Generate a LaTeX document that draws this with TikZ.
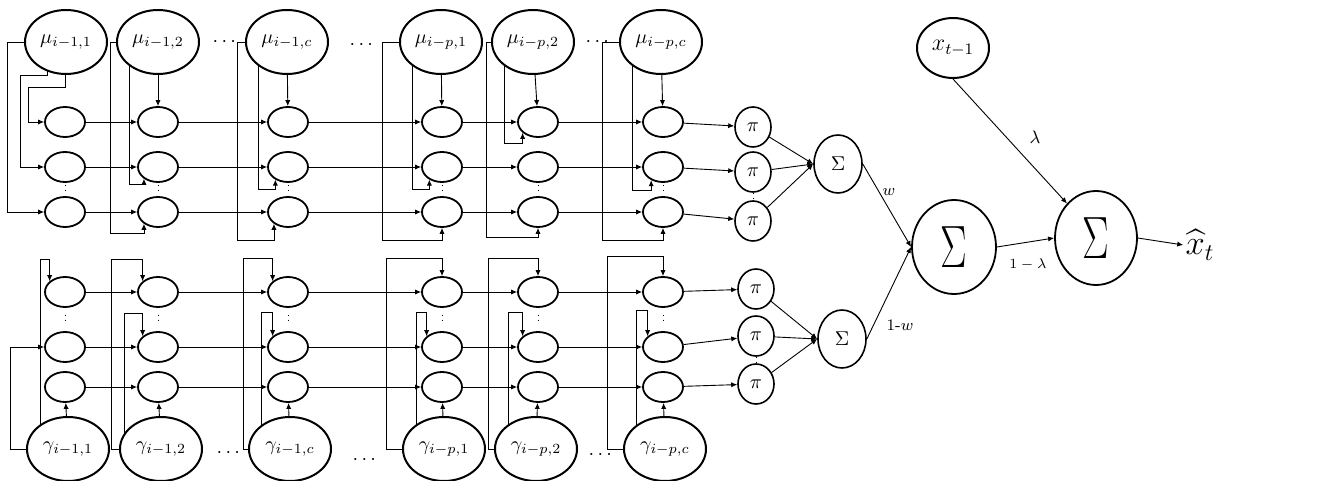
\documentclass[tikz,border=0pt]{standalone}
\usepackage{amsmath,amssymb}
\usepackage{graphicx}
\usetikzlibrary{shapes.geometric,arrows.meta,calc,backgrounds}

\begin{document}
\begin{tikzpicture}[x=0.5pt,y=-0.5pt,
    var/.style={ellipse,draw,line width=1pt,fill=white,inner sep=0pt,minimum width=41pt,minimum height=32pt},
    cell/.style={ellipse,draw,line width=0.9pt,fill=white,inner sep=0pt,minimum width=20pt,minimum height=15pt},
    prod/.style={ellipse,draw,line width=0.8pt,fill=white,inner sep=0pt,minimum width=18pt,minimum height=20pt},
    sumsmall/.style={ellipse,draw,line width=0.8pt,fill=white,inner sep=0pt,minimum width=24pt,minimum height=29pt},
    sumbig/.style={ellipse,draw,line width=0.9pt,fill=white,inner sep=0pt,minimum width=42pt,minimum height=47pt,font=\Huge},
    conn/.style={-{Latex[length=3pt,width=2.6pt]},line width=0.45pt},
]

% Page size
\useasboundingbox (0,0) rectangle (1324,481);

% Input nodes
\foreach \k/\x/\lab in {1/66/{i-1,1},2/158/{i-1,2},3/287/{i-1,c},4/441/{i-p,1},5/533/{i-p,2},6/661/{i-p,c}}
    \node[var] (m\k) at (\x,42) {$\mu_{\lab}$};
\foreach \k/\x/\lab in {1/68/{i-1,1},2/161/{i-1,2},3/290/{i-1,c},4/444/{i-p,1},5/536/{i-p,2},6/665/{i-p,c}}
    \node[var] (g\k) at (\x,449) {$\gamma_{\lab}$};

% Dots between inputs
\node (dm1) at (226,42) {$\cdots$};
\node (dm2) at (363,45) {$\cdots$};
\node (dm3) at (599,42) {$\cdots$};
\node (dg1) at (230,453) {$\cdots$};
\node (dg2) at (366,460) {$\cdots$};
\node (dg3) at (602,455) {$\cdots$};

% Grid of cells
\foreach \k/\x in {1/65,2/158,3/288,4/442,5/538,6/663} {
    \node[cell] (a\k1) at (\x,122) {};
    \node[cell] (a\k2) at (\x,167) {};
    \node[cell] (a\k3) at (\x,212) {};
    \node[cell] (b\k1) at (\x,292) {};
    \node[cell] (b\k2) at (\x,347) {};
    \node[cell] (b\k3) at (\x,387) {};
}

% Products
\node[prod] (p1) at (753,127) {$\pi$};
\node[prod] (p2) at (753,172) {$\pi$};
\node[prod] (p3) at (753,221) {$\pi$};
\node[prod] (q1) at (756,289) {$\pi$};
\node[prod] (q2) at (756,336) {$\pi$};
\node[prod] (q3) at (756,384) {$\pi$};

% Sums
\node[sumsmall] (s1) at (838,164) {$\Sigma$};
\node[sumsmall] (s2) at (842,339) {$\Sigma$};
\node[sumbig] (S) at (954,247) {\scalebox{0.8}[1.2]{$\Sigma$}};
\node[sumbig,minimum width=41pt] (T) at (1096,238) {\scalebox{0.8}[1.2]{$\Sigma$}};
\node[var,minimum width=36pt,minimum height=30pt,font=\large] (xp) at (953,48) {$x_{t-1}$};
\node[font=\LARGE,inner sep=1pt] (xh) at (1200,245) {$\widehat{x}_t$};

% Weights
\node[font=\footnotesize] (lw) at (889,192) {$w$};
\node[font=\footnotesize] (lomw) at (900,325) {1-$w$};
\node[font=\small] (llam) at (1035,137) {$\lambda$};
\node[font=\scriptsize] (loml) at (1028,264) {$1-\lambda$};

\begin{scope}[on background layer]
% Inputs into cells
\foreach \k in {2,...,6}
    \draw[conn] (m\k) -- (a\k1);
\foreach \k in {1,...,6}
    \draw[conn] (g\k) -- (b\k3);

% Rows
\foreach \k/\j in {1/2,2/3,3/4,4/5,5/6} {
    \foreach \r in {1,2,3} {
        \draw[conn] (a\k\r) -- (a\j\r);
        \draw[conn] (b\k\r) -- (b\j\r);
    }
}

% Rows into products, products into sums
\foreach \r in {1,2,3} {
    \draw[conn] (a6\r) -- (p\r);
    \draw[conn] (b6\r) -- (q\r);
    \draw[conn] (p\r) -- (s1.west);
    \draw[conn] (q\r) -- (s2.west);
}

% Dotted separators
\foreach \k in {1,...,6} {
    \draw[dotted,shorten <=1pt,shorten >=1pt] (a\k2) -- (a\k3);
    \draw[dotted,shorten <=3.5pt,shorten >=3.5pt] (b\k1) -- (b\k2);
}
\draw[dotted] (p2) -- (p3);
\draw[dotted] (q2) -- (q3);

% Feedback wires, top block
\draw[conn] (m1.west) -- ++(-17,0) |- (a13.west);
\draw[conn] ($(m1.center)+(-19,0)$) |- (20,75) |- (a12.west);
\draw[conn] ($(m1.center)+(-1,0)$) |- (28,87) |- (a11.west);
\draw[conn] (m2.west) -- ++(-6,0) |- ($(a23.220)+(0,10)$) -- (a23.220);
\draw[conn] ($(m2.center)+(-29,0)$) |- ($(a22.220)+(0,6)$) -- (a22.220);
\draw[conn] (m3.west) -- ++(-8,0) |- ($(a33.220)+(0,17)$) -- (a33.220);
\draw[conn] ($(m3.center)+(-29,0)$) |- ($(a32.225)+(0,10)$) -- (a32.225);
\draw[conn] (m4.west) -- ++(-17,0) |- ($(a43.south)+(0,13)$) -- (a43.south);
\draw[conn] ($(m4.center)+(-29,0)$) |- ($(a42.225)+(0,10)$) -- (a42.225);
\draw[conn] (m5.west) -- ++(-5,0) |- ($(a53.south)+(0,10)$) -- (a53.south);
\draw[conn] ($(m5.center)+(-29,0)$) |- ($(a51.215)+(0,11)$) -- (a51.215);
\draw[conn] (m6.west) -- ++(-17,0) |- ($(a63.south)+(0,13)$) -- (a63.south);
\draw[conn] ($(m6.center)+(-29,0)$) |- ($(a62.228)+(0,10)$) -- (a62.228);

% Feedback wires, bottom block
\draw[conn] (g1.west) -- ++(-16,0) |- (b12.west);
\draw[conn] ($(g1.center)+(-28,0)$) |- ($(b11.145)+(0,-22)$) -- (b11.145);
\draw[conn] (g2.west) -- ++(-8,0) |- ($(b21.145)+(0,-22)$) -- (b21.145);
\draw[conn] ($(g2.center)+(-37,0)$) |- ($(b22.145)+(0,-23)$) -- (b22.145);
\draw[conn] (g3.west) -- ++(-5,0) |- ($(b31.145)+(0,-23)$) -- (b31.145);
\draw[conn] ($(g3.center)+(-29,0)$) |- ($(b32.145)+(0,-24)$) -- (b32.145);
\draw[conn] (g4.west) -- ++(-16,0) |- ($(b41.north)+(0,-18)$) -- (b41.north);
\draw[conn] ($(g4.center)+(-28,0)$) |- ($(b42.145)+(0,-24)$) -- (b42.145);
\draw[conn] (g5.west) -- ++(-6,0) |- ($(b51.north)+(0,-18)$) -- (b51.north);
\draw[conn] ($(g5.center)+(-28,0)$) |- ($(b52.145)+(0,-24)$) -- (b52.145);
\draw[conn] (g6.west) -- ++(-16,0) |- ($(b61.north)+(0,-20)$) -- (b61.north);
\draw[conn] ($(g6.center)+(-29,0)$) |- ($(b62.145)+(0,-26)$) -- (b62.145);

% Output stage
\draw[conn] (s1.east) -- (S.west);
\draw[conn] (s2.east) -- (S.west);
\draw[conn] (S.east) -- (T.west);
\draw[conn] (xp.south) -- (T.130);
\draw[conn] (T.east) -- (xh.west);
\end{scope}

\end{tikzpicture}
\end{document}
